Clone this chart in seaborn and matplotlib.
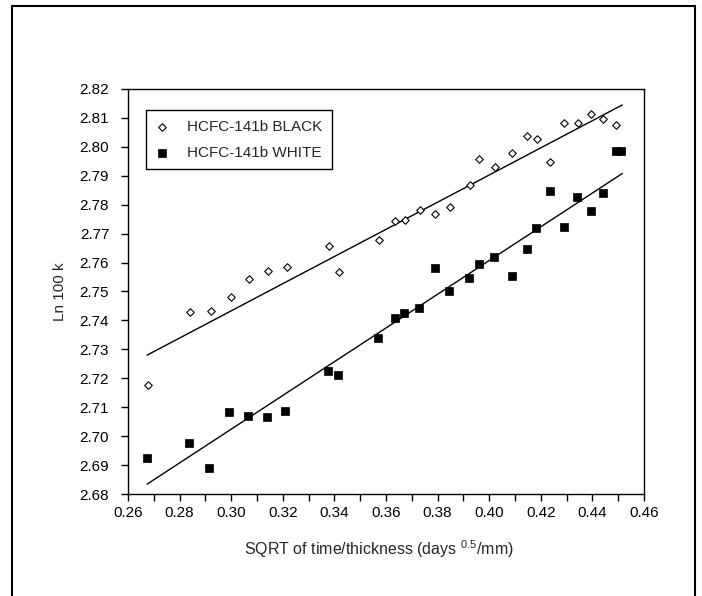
import numpy as np
import seaborn as sns
import matplotlib.pyplot as plt
from matplotlib.patches import Rectangle
from matplotlib.ticker import MultipleLocator, FormatStrFormatter

# data
black_x = [0.2676, 0.2840, 0.2921, 0.2998, 0.3070, 0.3141, 0.3218, 0.3379, 0.3416,
           0.3573, 0.3634, 0.3672, 0.3730, 0.3790, 0.3849, 0.3924, 0.3960, 0.4021,
           0.4089, 0.4145, 0.4185, 0.4236, 0.4288, 0.4344, 0.4395, 0.4443, 0.4492]
black_y = [2.7178, 2.7428, 2.7433, 2.7480, 2.7542, 2.7572, 2.7584, 2.7656, 2.7567,
           2.7678, 2.7742, 2.7747, 2.7782, 2.7768, 2.7793, 2.7867, 2.7957, 2.7929,
           2.7978, 2.8036, 2.8027, 2.7949, 2.8081, 2.8081, 2.8115, 2.8096, 2.8076]

white_x = [0.2672, 0.2836, 0.2914, 0.2992, 0.3067, 0.3139, 0.3208, 0.3376, 0.3414,
           0.3569, 0.3634, 0.3669, 0.3728, 0.3789, 0.3844, 0.3921, 0.3959, 0.4018,
           0.4089, 0.4146, 0.4182, 0.4237, 0.4288, 0.4340, 0.4393, 0.4442, 0.4493,
           0.4512]
white_y = [2.6925, 2.6977, 2.6890, 2.7083, 2.7069, 2.7066, 2.7088, 2.7225, 2.7213,
           2.7340, 2.7409, 2.7424, 2.7442, 2.7580, 2.7503, 2.7546, 2.7596, 2.7618,
           2.7554, 2.7647, 2.7720, 2.7847, 2.7722, 2.7825, 2.7779, 2.7839, 2.7984,
           2.7984]

# fitted lines (end points)
fit_x = [0.2674, 0.4516]
black_fit = [2.7280, 2.8145]
white_fit = [2.6834, 2.7908]

sns.set_style("ticks")
plt.rcParams['font.family'] = ['Liberation Sans', 'DejaVu Sans']
plt.rcParams['mathtext.fontset'] = 'custom'
plt.rcParams['mathtext.rm'] = 'Liberation Sans'

fig = plt.figure(figsize=(7.02, 5.96), dpi=100)
ax = fig.add_axes([128 / 702, 1 - 494 / 596, 516 / 702, 405 / 596])

sns.lineplot(x=fit_x, y=black_fit, color='black', linewidth=1, ax=ax, legend=False)
sns.lineplot(x=fit_x, y=white_fit, color='black', linewidth=1, ax=ax, legend=False)
sns.scatterplot(x=black_x, y=black_y, marker='D', s=15, color='white',
                edgecolor='black', linewidth=0.8, label='HCFC-141b BLACK', ax=ax, zorder=3)
sns.scatterplot(x=white_x, y=white_y, marker='s', s=27, color='black',
                edgecolor='black', linewidth=0.5, label='HCFC-141b WHITE', ax=ax, zorder=3)

ax.set_xlim(0.26, 0.46)
ax.set_ylim(2.68, 2.82)
ax.xaxis.set_major_locator(MultipleLocator(0.02))
ax.xaxis.set_minor_locator(MultipleLocator(0.01))
ax.yaxis.set_major_locator(MultipleLocator(0.01))
ax.xaxis.set_major_formatter(FormatStrFormatter('%.2f'))
ax.yaxis.set_major_formatter(FormatStrFormatter('%.2f'))
ax.tick_params(which='both', direction='out', length=5, width=1, labelsize=11, colors='black')
ax.tick_params(axis='y', pad=8.5)
for s in ax.spines.values():
    s.set_visible(True)
    s.set_linewidth(1)
    s.set_color('black')

ax.set_xlabel(r'SQRT of time/thickness (days $\mathregular{^{0.5}}$/mm)', fontsize=11.5)
ax.xaxis.label.set_va('center')
ax.xaxis.set_label_coords((379 - 128) / 516, (494 - 549) / 405)
ax.set_ylabel('Ln 100 k', fontsize=11)
ax.yaxis.label.set_va('center')
ax.yaxis.set_label_coords((60 - 128) / 516, 0.5)

leg = ax.legend(loc='upper left', bbox_to_anchor=(0.035, 0.947), borderaxespad=0,
                frameon=True, fancybox=False, edgecolor='black', fontsize=11,
                labelspacing=0.83, borderpad=0.6, handlelength=0.9, handletextpad=1.2)
leg.get_frame().set_linewidth(1)
leg.get_frame().set_alpha(1)

# page border from the scan
fig.add_artist(Rectangle((12 / 702, -0.05), 683 / 702, 1.05 - 6 / 596,
                         transform=fig.transFigure, fill=False, linewidth=1.5,
                         edgecolor='black', clip_on=False))

fig.savefig('out.png', dpi=100)
